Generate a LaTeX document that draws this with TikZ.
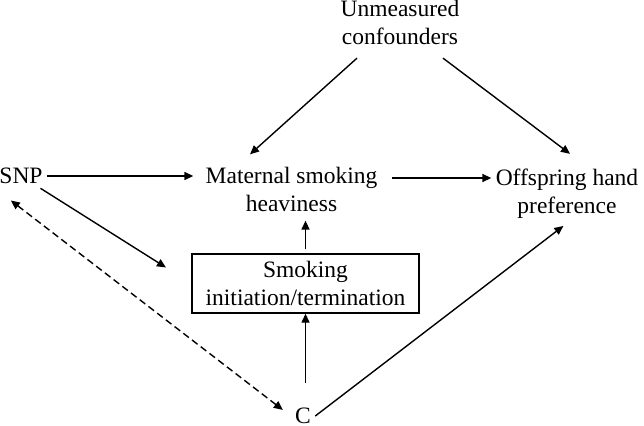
\documentclass[tikz,border=0pt]{standalone}
\usepackage{fontspec}
\setmainfont{Liberation Serif}
\usetikzlibrary{arrows.meta}

\begin{document}
\begin{tikzpicture}[
      every node/.style={font=\fontsize{11.75pt}{14pt}\selectfont},
      var/.style={align=center, inner sep=2pt},
      boxed/.style={draw, line width=0.7pt, align=center, inner sep=2pt,
        minimum width=3.989cm, minimum height=1.037cm},
      arr/.style={-{Triangle[length=4.5pt, width=4pt]}, line width=0.7pt},
      dasharr/.style={{Triangle[length=4.5pt, width=4pt]}-{Triangle[length=4.5pt, width=4pt]},
        line width=0.7pt, dash pattern=on 3.5pt off 2pt},
    ]
    \useasboundingbox (0, 0) rectangle (11.317, 7.486);

    \node[var] (unm) at (7.029, 7.091) {Unmeasured \\ confounders};
    \node[var] (snp) at (0.369, 4.393) {SNP};
    \node[var] (mat) at (5.123, 4.165) {Maternal smoking \\ heaviness};
    \node[var] (off) at (9.964, 4.077) {Offspring hand \\ preference};
    \node[boxed] (smk) at (5.369, 2.504) {Smoking \\ initiation/termination};
    \node[var] (c) at (5.325, 0.175) {C};

    \draw[arr, shorten >=4pt] (snp.east) -- (snp.east -| mat.west);
    \draw[arr, shorten <=5pt] ([yshift=-1pt]snp.east -| mat.east) -- ([yshift=-1pt]snp.east -| off.west);
    \draw[arr] ([xshift=-21.5pt, yshift=-4.5pt]unm.south) -- ([xshift=-20.75pt, yshift=4pt]mat.north);
    \draw[arr] ([xshift=21.5pt, yshift=-4.5pt]unm.south) -- ([xshift=1.5pt, yshift=5.5pt]off.north);
    \draw[arr, shorten >=15pt] (snp) -- (smk.west);
    \draw[arr, shorten <=2pt, shorten >=2.5pt] (smk.north) -- (smk.north |- mat.south);
    \draw[arr, shorten <=10.5pt] (smk.south |- c.north) -- (smk.south);
    \draw[arr, shorten >=2.3pt] (c.east) -- (off.south);
    \draw[dasharr, shorten <=10pt, shorten >=5pt] (snp.south west) -- (c.west);
  \end{tikzpicture}
\end{document}
